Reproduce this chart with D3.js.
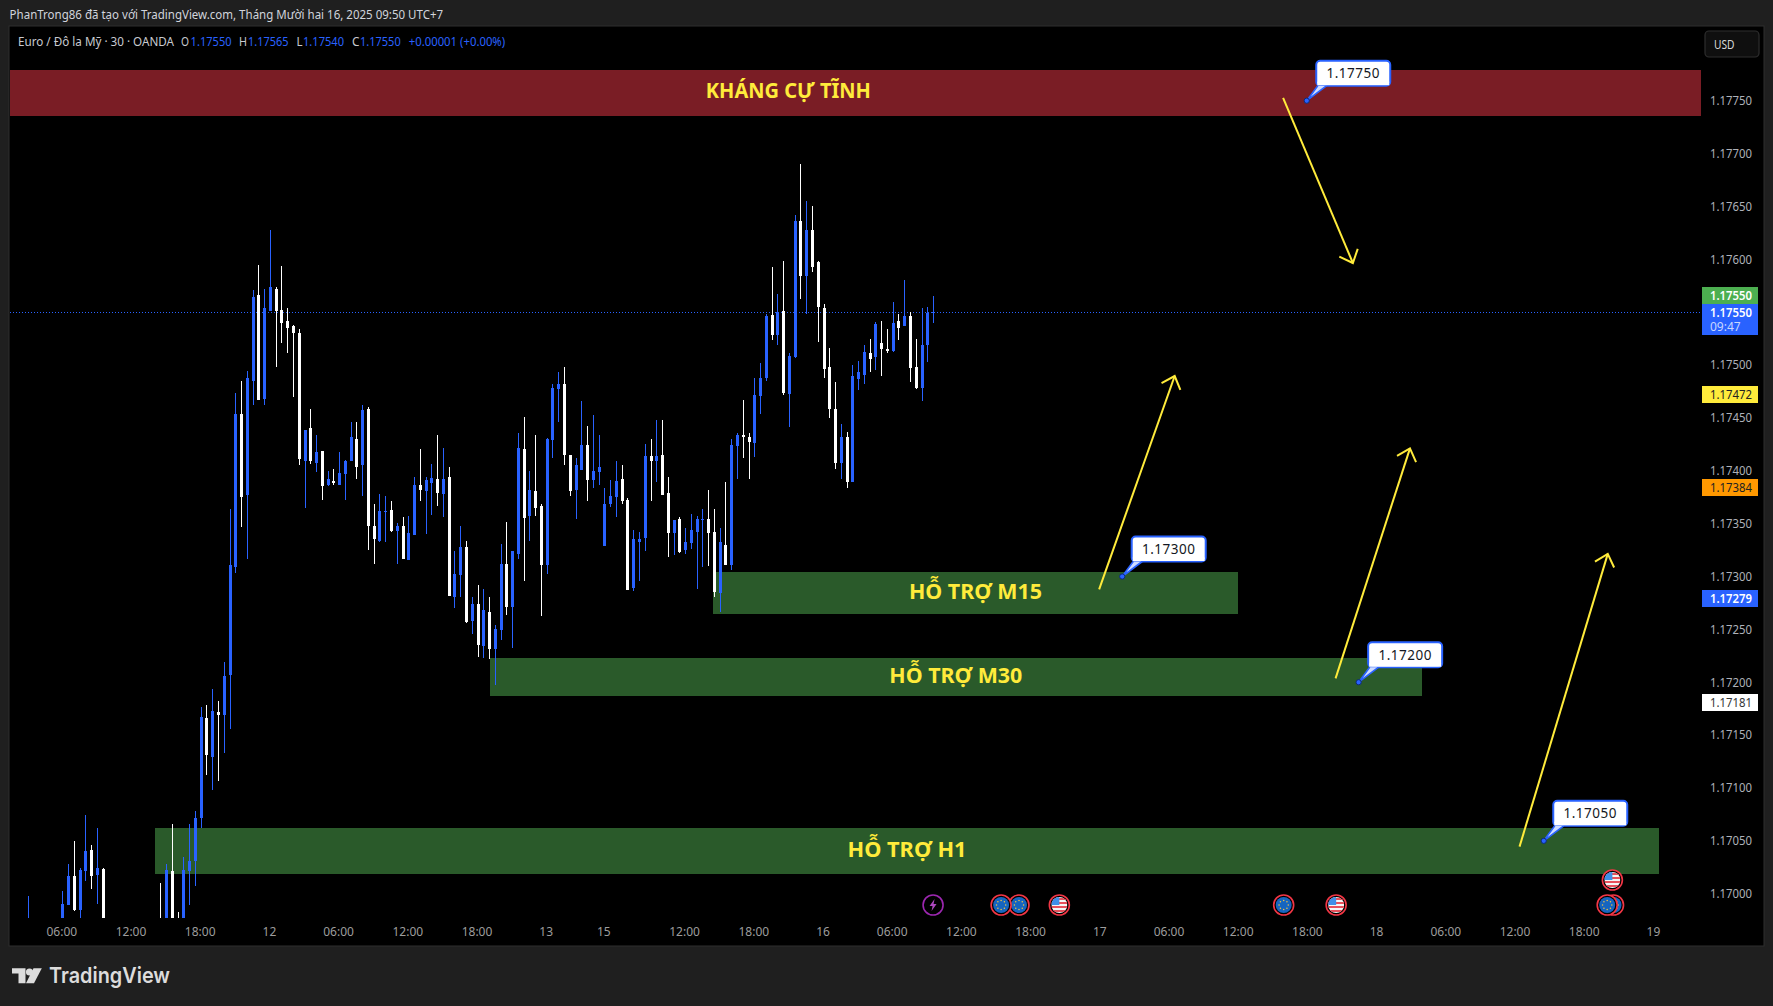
<!DOCTYPE html>
<html><head><meta charset="utf-8">
<script src="https://cdnjs.cloudflare.com/ajax/libs/d3/7.9.0/d3.min.js"></script>
<style>
html,body{margin:0;padding:0;background:#1f1f1f;overflow:hidden}
svg{display:block}
text{font-family:"Noto Sans",sans-serif}
</style></head><body>
<svg id="c" width="1773" height="1006"></svg>
<script>
// ---- categories ----
const candleBars = [-6,0,1,2,3,4,5,6,7,...d3.range(17,152)];
const timeTickBars = [0,12,24,36,48,60,72,84,94,108,120,132,144,156,168,180,192,204,216,228,240,252,264,276];
const timeTickLabels = ["06:00","12:00","18:00","12","06:00","12:00","18:00","13","15","12:00","18:00","16","06:00","12:00","18:00","17","06:00","12:00","18:00","18","06:00","12:00","18:00","19"];
const priceTicks = [1.17000,1.17050,1.17100,1.17150,1.17200,1.17250,1.17300,1.17350,1.17400,1.17450,1.17500,1.17600,1.17650,1.17700,1.17750];
// ---- series values ----
const opens = [1.16960,1.16965,1.16989,1.17017,1.16985,1.17021,1.17041,1.17018,1.17023,
1.16970,1.16965,1.17021,1.16975,1.16965,1.17021,1.17031,1.17072,1.17166,1.17129,1.17172,1.17169,1.17207,
1.17309,1.17454,1.17377,1.17485,1.17566,1.17468,1.17551,1.17572,1.17552,1.17542,
1.17537,1.17530,1.17409,1.17440,1.17407,1.17419,1.17387,1.17390,1.17387,1.17397,
1.17409,1.17430,1.17405,1.17458,1.17348,1.17334,1.17361,1.17363,1.17343,1.17348,
1.17316,1.17339,1.17387,1.17381,1.17388,1.17392,1.17378,1.17394,1.17281,1.17301,
1.17328,1.17258,1.17274,1.17234,1.17266,1.17231,1.17249,1.17312,1.17271,1.17321,
1.17421,1.17357,1.17381,1.17367,1.17311,1.17429,1.17477,1.17482,1.17415,1.17382,
1.17401,1.17424,1.17391,1.17399,1.17329,1.17369,1.17375,1.17392,1.17372,1.17289,
1.17333,1.17336,1.17414,1.17409,1.17415,1.17379,1.17341,1.17354,1.17325,1.17332,
1.17342,1.17353,1.17354,1.17342,1.17284,1.17330,1.17311,1.17423,1.17434,1.17432,
1.17426,1.17471,1.17488,1.17547,1.17528,1.17551,1.17473,1.17508,1.17636,1.17584,
1.17628,1.17597,1.17554,1.17498,1.17458,1.17407,1.17432,1.17389,1.17487,1.17491,
1.17511,1.17508,1.17521,1.17515,1.17513,1.17542,1.17537,1.17546,1.17498,1.17478,
1.17519,1.17550];
const highs = [1.16998,1.17003,1.17028,1.17050,1.17024,1.17074,1.17046,1.17062,1.17024,
1.17010,1.17028,1.17066,1.16983,1.17035,1.17066,1.17078,1.17177,1.17178,1.17194,1.17182,1.17219,1.17364,
1.17474,1.17485,1.17494,1.17571,1.17595,1.17572,1.17628,1.17574,1.17594,1.17554,
1.17538,1.17534,1.17439,1.17458,1.17434,1.17419,1.17400,1.17402,1.17418,1.17410,
1.17446,1.17446,1.17462,1.17460,1.17369,1.17378,1.17376,1.17371,1.17351,1.17356,
1.17357,1.17394,1.17421,1.17394,1.17406,1.17434,1.17422,1.17404,1.17324,1.17348,
1.17334,1.17281,1.17292,1.17288,1.17281,1.17254,1.17331,1.17352,1.17324,1.17436,
1.17451,1.17400,1.17434,1.17369,1.17431,1.17482,1.17493,1.17498,1.17415,1.17412,
1.17466,1.17442,1.17453,1.17434,1.17384,1.17391,1.17409,1.17405,1.17374,1.17344,
1.17342,1.17425,1.17430,1.17448,1.17448,1.17394,1.17353,1.17356,1.17346,1.17359,
1.17357,1.17364,1.17382,1.17364,1.17346,1.17389,1.17430,1.17436,1.17467,1.17436,
1.17488,1.17502,1.17548,1.17593,1.17567,1.17598,1.17511,1.17642,1.17690,1.17655,
1.17650,1.17598,1.17558,1.17516,1.17484,1.17444,1.17437,1.17500,1.17504,1.17519,
1.17525,1.17541,1.17542,1.17534,1.17560,1.17548,1.17580,1.17550,1.17525,1.17554,
1.17555,1.17565];
const lows = [1.16955,1.16955,1.16989,1.16984,1.16970,1.17012,1.17004,1.16990,1.16960,
1.16955,1.16960,1.16960,1.16960,1.16960,1.16989,1.17007,1.17062,1.17112,1.17098,1.17107,1.17133,1.17156,
1.17303,1.17347,1.17317,1.17462,1.17467,1.17462,1.17551,1.17498,1.17521,1.17511,
1.17470,1.17405,1.17365,1.17406,1.17399,1.17372,1.17386,1.17387,1.17387,1.17372,
1.17409,1.17392,1.17376,1.17325,1.17312,1.17333,1.17333,1.17342,1.17312,1.17317,
1.17316,1.17339,1.17371,1.17340,1.17358,1.17367,1.17356,1.17282,1.17270,1.17281,
1.17256,1.17246,1.17224,1.17223,1.17222,1.17197,1.17240,1.17264,1.17232,1.17317,
1.17296,1.17334,1.17357,1.17263,1.17302,1.17412,1.17446,1.17405,1.17376,1.17354,
1.17401,1.17371,1.17384,1.17387,1.17329,1.17366,1.17356,1.17369,1.17287,1.17286,
1.17296,1.17324,1.17371,1.17389,1.17377,1.17318,1.17320,1.17322,1.17321,1.17326,
1.17288,1.17309,1.17310,1.17281,1.17266,1.17311,1.17306,1.17392,1.17412,1.17392,
1.17413,1.17454,1.17485,1.17524,1.17519,1.17472,1.17441,1.17507,1.17562,1.17548,
1.17588,1.17522,1.17488,1.17450,1.17402,1.17392,1.17384,1.17389,1.17476,1.17482,
1.17493,1.17495,1.17490,1.17511,1.17512,1.17524,1.17537,1.17484,1.17477,1.17466,
1.17503,1.17540];
const closes = [1.16970,1.16990,1.17017,1.16985,1.17022,1.17040,1.17017,1.17024,1.16965,
1.16960,1.17022,1.16965,1.16965,1.17022,1.17031,1.17072,1.17167,1.17131,1.17173,1.17169,1.17206,1.17311,
1.17454,1.17375,1.17488,1.17564,1.17467,1.17554,1.17574,1.17551,1.17540,1.17535,
1.17530,1.17411,1.17439,1.17409,1.17418,1.17386,1.17392,1.17388,1.17398,1.17409,
1.17432,1.17404,1.17457,1.17348,1.17335,1.17362,1.17362,1.17343,1.17348,1.17317,
1.17341,1.17387,1.17382,1.17391,1.17393,1.17379,1.17392,1.17282,1.17302,1.17328,
1.17257,1.17274,1.17235,1.17268,1.17231,1.17250,1.17312,1.17271,1.17324,1.17422,
1.17355,1.17382,1.17365,1.17311,1.17430,1.17478,1.17482,1.17415,1.17381,1.17405,
1.17424,1.17391,1.17400,1.17404,1.17369,1.17376,1.17390,1.17371,1.17287,1.17335,
1.17335,1.17414,1.17409,1.17414,1.17377,1.17341,1.17353,1.17323,1.17333,1.17344,
1.17354,1.17354,1.17341,1.17285,1.17333,1.17311,1.17424,1.17434,1.17432,1.17427,
1.17472,1.17488,1.17546,1.17528,1.17550,1.17474,1.17509,1.17636,1.17584,1.17628,
1.17593,1.17555,1.17496,1.17458,1.17407,1.17432,1.17389,1.17490,1.17493,1.17512,
1.17506,1.17539,1.17515,1.17513,1.17540,1.17535,1.17546,1.17497,1.17478,1.17519,
1.17549,1.17550];
// ---- drawings ----
const zoneLabels = ["KHÁNG CỰ TĨNH","HỖ TRỢ M15","HỖ TRỢ M30","HỖ TRỢ H1"];
const zoneStartBars = [-32.5,112.9,74.1,16.07];
const zoneEndBars = [284.3,203.8,235.8,276.9];
const zoneTopPrices = [1.17779,1.17304,1.17223,1.17062];
const zoneBottomPrices = [1.177355,1.172645,1.17187,1.17019];
const zoneColors = ["#7a1d25","#2a5a2a","#2a5a2a","#2a5a2a"];
const arrowStartBars = [211.7,179.8,220.8,252.7];
const arrowStartPrices = [1.177526,1.172879,1.172037,1.170445];
const arrowEndBars = [223.8,192.9,233.7,268.0];
const arrowEndPrices = [1.175965,1.174896,1.174212,1.173214];
const noteBars = [215.8,183.8,224.8,256.9];
const notePrices = [1.17750,1.17300,1.17200,1.17050];
const noteLabels = ["1.17750","1.17300","1.17200","1.17050"];
const tagPrices = [1.17472,1.17384,1.17279,1.17181];
const tagFills = ["#ffeb3b","#ff9800","#2962ff","#ffffff"];
const tagInks = ["#222222","#222222","#ffffff","#333333"];
const lastPrice = 1.17550;
const eventBars = [151,162.8,165.9,172.9,211.8,220.9,267.9,269];
const eventKinds = ["bolt","eu","eu","us","eu","us","eu","eu"];
const usBar2 = 268.8;

const blue="#2962ff";
const paneL=10,paneT=27,paneR=1763,paneB=945,chartR=1701,chartB=918;
const x=d3.scaleLinear().domain([0,276]).range([62.3,1653.9]);
const y=d3.scaleLinear().domain([1.17,1.1775]).range([893.7,100.7]);
const svg=d3.select("#c");

// chrome
svg.append("text").attr("x",9.6).attr("y",19).attr("fill","#d1d4dc").attr("font-size",12)
  .attr("textLength",433.5).attr("lengthAdjust","spacingAndGlyphs")
  .text("PhanTrong86 đã tạo với TradingView.com, Tháng Mười hai 16, 2025 09:50 UTC+7");
svg.append("rect").attr("x",paneL-1).attr("y",paneT-1).attr("width",paneR-paneL+2).attr("height",paneB-paneT+2)
  .attr("fill","#000").attr("stroke","#2e2e2e").attr("stroke-width",1);

const defs=svg.append("defs");
defs.append("clipPath").attr("id","chartClip").append("rect").attr("x",paneL).attr("y",paneT).attr("width",chartR-paneL).attr("height",chartB-paneT);
const chart=svg.append("g").attr("clip-path","url(#chartClip)");

// zones
chart.selectAll("rect.zone").data(zoneLabels).join("rect").attr("class","zone")
  .attr("x",(d,i)=>x(zoneStartBars[i])).attr("width",(d,i)=>x(zoneEndBars[i])-x(zoneStartBars[i]))
  .attr("y",(d,i)=>y(zoneTopPrices[i])).attr("height",(d,i)=>y(zoneBottomPrices[i])-y(zoneTopPrices[i]))
  .attr("fill",(d,i)=>zoneColors[i]).attr("shape-rendering","crispEdges");

// last price line
chart.append("line").attr("x1",paneL).attr("x2",chartR).attr("y1",Math.round(y(lastPrice))+.5).attr("y2",Math.round(y(lastPrice))+.5)
  .attr("stroke",blue).attr("stroke-width",1).attr("stroke-dasharray","1 2");

// candles
const cg=chart.append("g").attr("shape-rendering","crispEdges");
const colour=i=>closes[i]>=opens[i]?blue:"#ffffff";
cg.selectAll("rect.w").data(candleBars).join("rect").attr("class","w")
  .attr("x",d=>Math.round(x(d))).attr("width",1)
  .attr("y",(d,i)=>y(highs[i])).attr("height",(d,i)=>y(lows[i])-y(highs[i]))
  .attr("fill",(d,i)=>colour(i));
cg.selectAll("rect.b").data(candleBars).join("rect").attr("class","b")
  .attr("x",d=>Math.round(x(d))-1).attr("width",3)
  .attr("y",(d,i)=>y(Math.max(opens[i],closes[i])))
  .attr("height",(d,i)=>Math.max(1,Math.abs(y(opens[i])-y(closes[i]))))
  .attr("fill",(d,i)=>colour(i));

// zone labels
chart.selectAll("text.zl").data(zoneLabels).join("text").attr("class","zl")
  .attr("x",(d,i)=>(x(zoneStartBars[i])+x(zoneEndBars[i]))/2)
  .attr("y",(d,i)=>(y(zoneTopPrices[i])+y(zoneBottomPrices[i]))/2+[5,5.5,6.5,6.5][i])
  .attr("text-anchor","middle").attr("fill","#ffeb3b").attr("font-size",22).attr("font-weight",700)
  .attr("textLength",(d,i)=>[165,133,133,119][i]).attr("lengthAdjust","spacingAndGlyphs")
  .text(d=>d);

// arrows
const arrows=chart.append("g").attr("fill","none").attr("stroke","#ffeb3b").attr("stroke-width",2);
arrowStartBars.forEach((b,i)=>{
  const x1=x(b),y1=y(arrowStartPrices[i]),x2=x(arrowEndBars[i]),y2=y(arrowEndPrices[i]);
  const a=Math.atan2(y1-y2,x1-x2),s=0.73,L=15;
  arrows.append("line").attr("x1",x1).attr("y1",y1).attr("x2",x2).attr("y2",y2);
  arrows.append("polyline").attr("points",[[x2+L*Math.cos(a-s),y2+L*Math.sin(a-s)],[x2,y2],[x2+L*Math.cos(a+s),y2+L*Math.sin(a+s)]].join(" "));
});

// price notes
noteLabels.forEach((t,i)=>{
  const g=chart.append("g").attr("transform",`translate(${x(noteBars[i])},${y(notePrices[i])})`);
  g.append("rect").attr("x",9.5).attr("y",-40).attr("width",74).attr("height",25).attr("rx",4)
    .attr("fill","#fff").attr("stroke",blue).attr("stroke-width",2);
  g.append("path").attr("d","M11 -15 L0 0 L20 -15").attr("fill","#cfdcff").attr("stroke",blue).attr("stroke-width",1.6);
  g.append("rect").attr("x",10.5).attr("y",-19).attr("width",72).attr("height",3.5).attr("fill","#fff");
  g.append("circle").attr("r",2.6).attr("fill",blue).attr("stroke","#0c2a7a").attr("stroke-width",1);
  g.append("text").attr("x",46.5).attr("y",-22.5).attr("text-anchor","middle").attr("fill","#131722").attr("font-size",13.5).attr("letter-spacing",0.5).text(t);
});

// axes
const ay=svg.append("g").attr("transform",`translate(1710,0)`)
  .call(d3.axisRight(y).tickValues(priceTicks).tickSize(0).tickPadding(0).tickFormat(d3.format(".5f")));
ay.select(".domain").remove();
ay.selectAll("text").attr("fill","#aeb1b8").attr("font-size",12).attr("textLength",42).attr("lengthAdjust","spacingAndGlyphs");
const ax=svg.append("g").attr("transform",`translate(-1,${chartB})`)
  .call(d3.axisBottom(x).tickValues(timeTickBars).tickSize(0).tickPadding(9).tickFormat((d,i)=>timeTickLabels[i]));
ax.select(".domain").remove();
ax.selectAll("text").attr("fill","#9d9d9d").attr("font-size",12);

// price tags
const tagG=svg.append("g").attr("shape-rendering","crispEdges");
function tag(cy,h,fill){tagG.append("rect").attr("x",1702).attr("y",cy-h/2).attr("width",56).attr("height",h).attr("rx",1).attr("fill",fill);}
const tagText=(tx,ty,col,w)=>svg.append("text").attr("x",1710).attr("y",ty).attr("fill",col).attr("font-size",12).attr("font-weight",w||400).attr("textLength",42).attr("lengthAdjust","spacingAndGlyphs").text(tx);
tagPrices.forEach((p,i)=>{tag(y(p),17,tagFills[i]);});
tag(295.5,17,"#4caf50");
tagG.append("rect").attr("x",1702).attr("y",304).attr("width",56).attr("height",31).attr("rx",1).attr("fill","#2962ff");
tagPrices.forEach((p,i)=>{tagText(d3.format(".5f")(p),y(p)+4.3,tagInks[i],i===2?600:400);});
tagText(d3.format(".5f")(lastPrice),299.8,"#fff",600);
tagText(d3.format(".5f")(lastPrice),317,"#fff",600);
svg.append("text").attr("x",1710).attr("y",331).attr("fill","#c8d6ff").attr("font-size",12).text("09:47");

// USD
svg.append("rect").attr("x",1705).attr("y",31).attr("width",54).attr("height",26).attr("rx",4).attr("fill","#0f0f0f").attr("stroke","#2e2e2e").attr("stroke-width",1.2);
svg.append("text").attr("x",1714).attr("y",48.5).attr("fill","#d8d8d8").attr("font-size",12).attr("textLength",20.5).attr("lengthAdjust","spacingAndGlyphs").text("USD");

// legend
const leg=[["Euro / Đô la Mỹ · 30 · OANDA",18,156,"#c8cad0"],["O",181,8,"#c8cad0"],["1.17550",190.6,41,blue],["H",239,8,"#c8cad0"],["1.17565",248,40.5,blue],["L",296.6,6,"#c8cad0"],["1.17540",303,41,blue],["C",352,7.5,"#c8cad0"],["1.17550",360,40.7,blue],["+0.00001 (+0.00%)",408.7,96.5,blue]];
svg.selectAll("text.leg").data(leg).join("text").attr("class","leg").attr("x",d=>d[1]).attr("y",46).attr("fill",d=>d[3]).attr("font-size",12)
  .attr("textLength",d=>d[2]).attr("lengthAdjust","spacingAndGlyphs").text(d=>d[0]);

// events
function euIcon(g){
  g.append("circle").attr("r",8).attr("fill","#1565c0");
  d3.range(8).forEach(k=>{const a=k/8*2*Math.PI;g.append("circle").attr("cx",4.6*Math.cos(a)).attr("cy",4.6*Math.sin(a)).attr("r",.75).attr("fill","#f4c542");});
}
function usIcon(g,id){
  defs.append("clipPath").attr("id",id).append("circle").attr("r",8);
  const f=g.append("g").attr("clip-path",`url(#${id})`);
  f.append("rect").attr("x",-8).attr("y",-8).attr("width",16).attr("height",16).attr("fill","#f5f5f5");
  [-7,-3,1,5].forEach(v=>f.append("rect").attr("x",-8).attr("y",v).attr("width",16).attr("height",2).attr("fill","#e8505b"));
  f.append("rect").attr("x",-8).attr("y",-8).attr("width",8).attr("height",8).attr("fill","#3f8fe8");
}
function ring(g,col){g.append("circle").attr("r",10).attr("fill","#000").attr("stroke",col).attr("stroke-width",1.6);}
const evY=905;
eventBars.slice().reverse().forEach((b,ri)=>{
  const i=eventBars.length-1-ri,k=eventKinds[i];
  const g=svg.append("g").attr("transform",`translate(${x(b)},${evY})`);
  if(k==="bolt"){
    ring(g,"#9c27b0");
    g.append("path").attr("d","M1.5 -6 L-3.5 1 L-0.5 1 L-1.5 6 L3.5 -1 L0.5 -1 Z").attr("fill","#ab47bc");
  } else { ring(g,"#f23645"); k==="eu"?euIcon(g):usIcon(g,"usc"+i); }
});
const g2=svg.append("g").attr("transform",`translate(${x(usBar2)},880)`);
ring(g2,"#f23645"); usIcon(g2,"uscTop");

// logo
const lg=svg.append("g").attr("fill","#dcdcdc");
lg.append("path").attr("d","M12 968.3H25.5V983.3H18.5V973.5H12Z");
lg.append("circle").attr("cx",29.5).attr("cy",972).attr("r",3.6);
lg.append("path").attr("d","M33.5 968.3H41.8L34 983.3H26Z");
svg.append("text").attr("x",49).attr("y",983).attr("fill","#dcdcdc").attr("font-size",22).attr("font-weight",600)
  .style("font-family","Inter").attr("textLength",121).attr("lengthAdjust","spacingAndGlyphs").text("TradingView");
</script>
</body></html>
